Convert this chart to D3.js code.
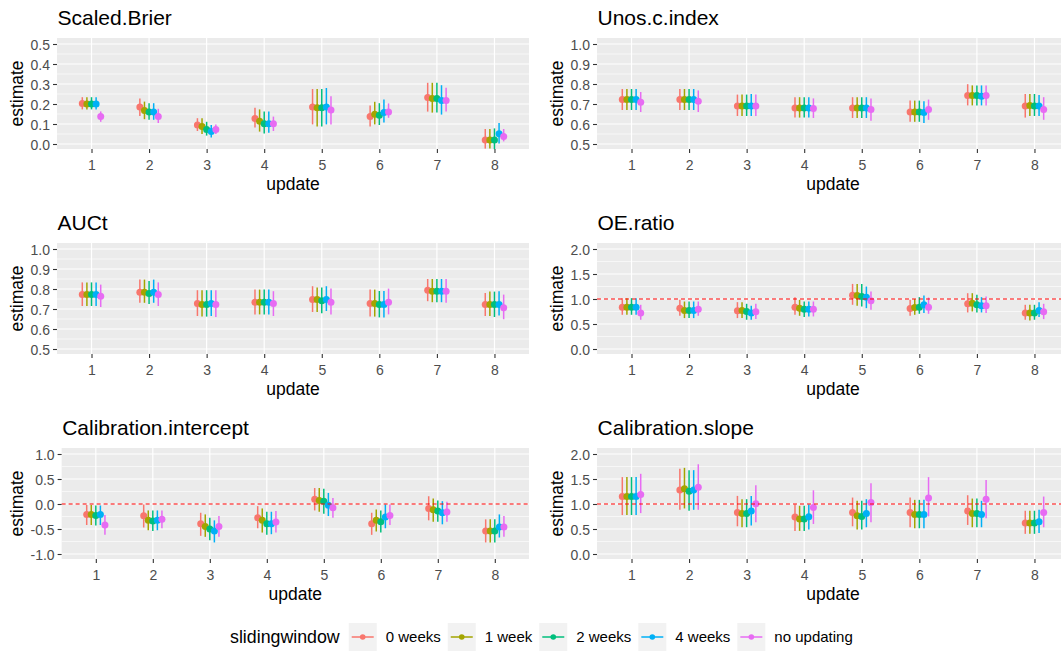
<!DOCTYPE html>
<html><head><meta charset="utf-8">
<script src="https://cdn.jsdelivr.net/npm/d3@7"></script>
<style>body{margin:0;background:#fff;} text{font-family:"Liberation Sans",Arial,sans-serif;}</style>
</head><body>
<script>
const updates = [1,2,3,4,5,6,7,8];
const windows = ["0 weeks","1 week","2 weeks","4 weeks","no updating"];
const colors = ["#F8766D","#A3A500","#00BF7D","#00B0F6","#E76BF3"];

// rows = updates 1..8, columns = windows
const brierEst = [[.203,.200,.200,.200,.137],[.185,.168,.160,.160,.137],[.095,.088,.072,.062,.072],[.127,.114,.101,.101,.101],[.185,.181,.181,.185,.170],[.137,.149,.144,.157,.160],[.232,.227,.227,.217,.217],[.020,.020,.020,.051,.038]];
const brierLo = [[.173,.173,.173,.173,.111],[.140,.124,.121,.121,.105],[.065,.050,.042,.033,.050],[.083,.062,.052,.056,.065],[.098,.088,.088,.098,.098],[.088,.098,.095,.108,.131],[.162,.157,.157,.147,.162],[-.023,-.023,-.026,.002,.013]];
const brierHi = [[.234,.234,.234,.234,.163],[.227,.212,.204,.204,.176],[.129,.129,.111,.095,.098],[.181,.173,.163,.163,.137],[.275,.275,.275,.280,.239],[.193,.211,.204,.222,.203],[.306,.306,.306,.294,.281],[.075,.075,.078,.105,.075]];

const unosEst = [[.722,.722,.722,.722,.709],[.722,.722,.722,.722,.714],[.690,.690,.690,.690,.690],[.680,.680,.680,.680,.678],[.680,.680,.680,.680,.673],[.660,.660,.660,.657,.673],[.742,.742,.742,.739,.742],[.690,.693,.690,.690,.673]];
const unosLo = [[.670,.670,.670,.670,.660],[.670,.670,.670,.670,.660],[.640,.640,.640,.640,.640],[.632,.632,.632,.632,.630],[.630,.630,.630,.630,.616],[.611,.611,.611,.605,.621],[.693,.693,.693,.693,.693],[.632,.640,.640,.640,.621]];
const unosHi = [[.775,.775,.775,.775,.760],[.775,.775,.775,.775,.768],[.747,.747,.747,.750,.747],[.734,.734,.734,.734,.728],[.734,.734,.734,.734,.727],[.717,.717,.717,.714,.722],[.799,.793,.793,.793,.793],[.750,.750,.750,.745,.734]];

const auctEst = [[.772,.772,.772,.772,.764],[.784,.784,.777,.784,.772],[.728,.723,.723,.728,.723],[.734,.734,.734,.734,.728],[.748,.748,.741,.748,.734],[.728,.728,.723,.723,.734],[.794,.789,.789,.789,.789],[.723,.723,.723,.723,.706]];
const auctLo = [[.715,.715,.715,.715,.710],[.731,.731,.725,.731,.715],[.665,.662,.662,.665,.660],[.673,.673,.673,.673,.665],[.685,.685,.679,.690,.673],[.662,.662,.658,.658,.673],[.739,.734,.734,.734,.731],[.665,.665,.660,.668,.649]];
const auctHi = [[.833,.833,.833,.833,.822],[.847,.847,.840,.847,.833],[.794,.794,.794,.794,.794],[.797,.797,.797,.797,.789],[.814,.808,.808,.814,.802],[.797,.797,.790,.790,.802],[.850,.850,.850,.850,.850],[.780,.787,.787,.789,.772]];

const oeEst = [[.837,.837,.837,.837,.718],[.817,.771,.771,.771,.797],[.764,.771,.751,.718,.744],[.837,.817,.797,.797,.797],[1.076,1.070,1.050,1.037,.963],[.810,.831,.837,.884,.837],[.904,.917,.884,.864,.864],[.718,.718,.718,.771,.744]];
const oeLo = [[.684,.684,.684,.684,.585],[.664,.618,.618,.618,.664],[.618,.618,.585,.585,.598],[.684,.664,.638,.651,.651],[.884,.864,.850,.817,.784],[.664,.684,.704,.718,.704],[.731,.751,.731,.731,.718],[.585,.571,.585,.638,.598]];
const oeHi = [[1.017,1.017,1.017,1.017,.884],[.983,.950,.950,.950,.950],[.937,.937,.904,.864,.904],[1.037,.983,.950,.950,.950],[1.302,1.302,1.302,1.249,1.149],[.983,.997,1.037,1.070,1.030],[1.116,1.116,1.083,1.037,1.050],[.884,.884,.884,.937,.904]];

const ciEst = [[-.208,-.210,-.228,-.210,-.420],[-.234,-.327,-.340,-.327,-.307],[-.393,-.452,-.498,-.538,-.452],[-.274,-.327,-.393,-.393,-.360],[.096,.069,.056,-.023,-.076],[-.393,-.327,-.353,-.261,-.228],[-.089,-.116,-.142,-.175,-.162],[-.538,-.538,-.538,-.459,-.459]];
const ciLo = [[-.42,-.42,-.43,-.42,-.617],[-.47,-.525,-.538,-.525,-.485],[-.637,-.657,-.723,-.769,-.657],[-.485,-.571,-.617,-.604,-.571],[-.129,-.155,-.195,-.241,-.274],[-.617,-.551,-.571,-.485,-.42],[-.327,-.353,-.353,-.406,-.353],[-.769,-.769,-.769,-.67,-.657]];
const ciHi = [[-.02,-.02,-.03,-.03,-.22],[-.01,-.129,-.129,-.129,-.129],[-.175,-.208,-.274,-.327,-.241],[-.043,-.089,-.155,-.155,-.142],[.32,.32,.307,.221,.122],[-.175,-.109,-.129,-.01,-.01],[.155,.109,.069,.056,.043],[-.307,-.307,-.307,-.208,-.241]];

const csEst = [[1.149,1.149,1.149,1.149,1.188],[1.28,1.307,1.254,1.28,1.333],[.832,.812,.812,.858,1.003],[.739,.700,.700,.746,.931],[.832,.766,.752,.812,1.03],[.832,.792,.792,.792,1.122],[.858,.812,.812,.792,1.096],[.620,.620,.620,.647,.832]];
const csLo = [[.779,.779,.779,.779,.818],[.884,.911,.865,.884,.884],[.554,.535,.535,.568,.634],[.462,.462,.462,.488,.601],[.554,.488,.488,.535,.634],[.535,.515,.515,.515,.752],[.581,.535,.535,.535,.713],[.403,.403,.403,.422,.535]];
const csHi = [[1.538,1.538,1.538,1.538,1.604],[1.703,1.723,1.677,1.677,1.795],[1.162,1.096,1.096,1.162,1.373],[.990,.964,.964,.990,1.274],[1.129,1.063,1.063,1.096,1.413],[1.129,1.083,1.083,1.083,1.538],[1.175,1.109,1.109,1.063,1.479],[.865,.865,.865,.884,1.149]];

const panels = [
  {title:"Scaled.Brier", col:0,row:0, ymin:0, ymax:0.5, step:0.1, est:brierEst, lo:brierLo, hi:brierHi, ref:null},
  {title:"Unos.c.index", col:1,row:0, ymin:0.5, ymax:1.0, step:0.1, est:unosEst, lo:unosLo, hi:unosHi, ref:null},
  {title:"AUCt", col:0,row:1, ymin:0.5, ymax:1.0, step:0.1, est:auctEst, lo:auctLo, hi:auctHi, ref:null},
  {title:"OE.ratio", col:1,row:1, ymin:0, ymax:2.0, step:0.5, est:oeEst, lo:oeLo, hi:oeHi, ref:1},
  {title:"Calibration.intercept", col:0,row:2, ymin:-1.0, ymax:1.0, step:0.5, est:ciEst, lo:ciLo, hi:ciHi, ref:0},
  {title:"Calibration.slope", col:1,row:2, ymin:0, ymax:2.0, step:0.5, est:csEst, lo:csLo, hi:csHi, ref:1}
];

const W = 1061, H = 651;
const svg = d3.select("body").append("svg").attr("width",W).attr("height",H);
const fmt = d => d.toFixed(1);

function textWidth(str, size){
  const t = svg.append("text").style("font-size",size+"px").text(str);
  const w = t.node().getComputedTextLength(); t.remove(); return w;
}

const colX = [0,540];
const rowY = [38,243,448];
const dodge = 0.4, nS = windows.length;

panels.forEach(p=>{
  const nT = Math.round((p.ymax-p.ymin)/p.step);
  const ticks = d3.range(nT+1).map(i=>+(p.ymin+i*p.step).toFixed(3));
  const maxLW = d3.max(ticks, t=>textWidth(fmt(t),14));
  const L = colX[p.col] + 30.5 + maxLW + 7;
  const R = colX[p.col] + 529;
  const T = rowY[p.row], B = T + 111;
  const x = d3.scaleLinear().domain([0.4,8.6]).range([L,R]);
  const y = d3.scaleLinear().domain([p.ymin,p.ymax]).range([T+106,T+6]);
  const g = svg.append("g");
  g.append("rect").attr("x",L).attr("y",T).attr("width",R-L).attr("height",B-T).attr("fill","#EBEBEB");
  const minors = d3.range(nT+2).map(i=>p.ymin+(i-0.5)*p.step).filter(v=>y(v)>T && y(v)<B);
  g.selectAll(".mn").data(minors).join("line").attr("x1",L).attr("x2",R)
    .attr("y1",d=>y(d)).attr("y2",d=>y(d)).attr("stroke","#fff").attr("stroke-width",0.6);
  g.selectAll(".mj").data(ticks).join("line").attr("x1",L).attr("x2",R)
    .attr("y1",d=>y(d)).attr("y2",d=>y(d)).attr("stroke","#fff").attr("stroke-width",1.2);
  g.selectAll(".vx").data(updates).join("line").attr("y1",T).attr("y2",B)
    .attr("x1",d=>x(d)).attr("x2",d=>x(d)).attr("stroke","#fff").attr("stroke-width",1.2);

  windows.forEach((w,si)=>{
    const off = (si-(nS-1)/2)*dodge/nS;
    const sg = g.append("g");
    sg.selectAll("line").data(updates).join("line")
      .attr("x1",(d)=>x(d+off)).attr("x2",(d)=>x(d+off))
      .attr("y1",(d,i)=>y(p.lo[i][si])).attr("y2",(d,i)=>y(p.hi[i][si]))
      .attr("stroke",colors[si]).attr("stroke-width",1.5);
    sg.selectAll("circle").data(updates).join("circle")
      .attr("cx",d=>x(d+off)).attr("cy",(d,i)=>y(p.est[i][si])).attr("r",3.5)
      .attr("fill",colors[si]);
  });
  if(p.ref!==null){
    g.append("line").attr("x1",L).attr("x2",R).attr("y1",y(p.ref)).attr("y2",y(p.ref))
      .attr("stroke","#FF0000").attr("stroke-width",1.1).attr("stroke-dasharray","4,3");
  }

  const ya = g.append("g").attr("transform",`translate(${L},0)`)
    .call(d3.axisLeft(y).tickValues(ticks).tickFormat(fmt).tickSize(4).tickPadding(3));
  const xa = g.append("g").attr("transform",`translate(0,${B})`)
    .call(d3.axisBottom(x).tickValues(updates).tickFormat(d=>d).tickSize(4).tickPadding(3));
  [ya,xa].forEach(a=>{
    a.select(".domain").remove();
    a.selectAll(".tick line").attr("stroke","#333333").attr("stroke-width",1.1);
    a.selectAll(".tick text").attr("fill","#4D4D4D").style("font-size","14px")
      .style("font-family",'"Liberation Sans",Arial,sans-serif');
  });
  xa.selectAll(".tick text").attr("dy",null).attr("y",20.5).attr("dominant-baseline","auto");
  ya.selectAll(".tick text").attr("dy","0.36em");

  g.append("text").attr("x",L+0.5).attr("y",T-13).style("font-size","21px").attr("fill","#000").text(p.title);
  g.append("text").attr("x",(L+R)/2).attr("y",B+41).attr("text-anchor","middle")
    .style("font-size","17.5px").attr("fill","#000").text("update");
  g.append("text").attr("transform",`translate(${colX[p.col]+23},${(T+B)/2}) rotate(-90)`)
    .attr("text-anchor","middle").style("font-size","17.5px").attr("fill","#000").text("estimate");
});

// legend
const lg = svg.append("g");
let lx = 230; const lyc = 637;
lg.append("text").attr("x",lx).attr("y",lyc+6).style("font-size","17.8px").text("slidingwindow");
lx += textWidth("slidingwindow",17.8) + 9;
windows.forEach((w,i)=>{
  lg.append("rect").attr("x",lx).attr("y",lyc-14).attr("width",28).attr("height",28).attr("fill","#F2F2F2");
  lg.append("line").attr("x1",lx+3).attr("x2",lx+25).attr("y1",lyc).attr("y2",lyc)
    .attr("stroke",colors[i]).attr("stroke-width",1.5);
  lg.append("circle").attr("cx",lx+14).attr("cy",lyc).attr("r",2.8).attr("fill",colors[i]);
  lx += 28 + 9;
  lg.append("text").attr("x",lx).attr("y",lyc+5).style("font-size","15px").attr("fill","#000").text(w);
  lx += textWidth(w,15) + 7;
});
</script>
</body></html>
